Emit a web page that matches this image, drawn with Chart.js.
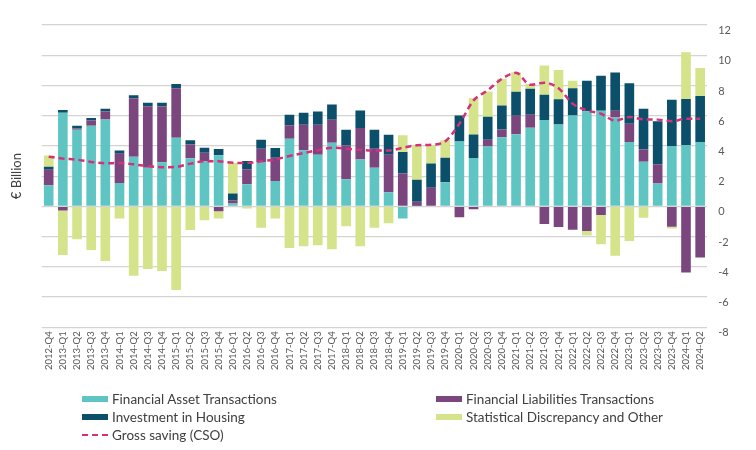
<!DOCTYPE html>
<html>
<head>
<meta charset="utf-8">
<script src="https://cdn.jsdelivr.net/npm/chart.js@4/dist/chart.umd.min.js"></script>
<style>
  html, body { margin: 0; padding: 0; background: #ffffff; }
  #wrap { position: relative; width: 756px; height: 450px; }
  #legend { position: absolute; left: 0; top: 0; width: 756px; height: 450px; pointer-events: none;
            font-family: Lato, "Open Sans", sans-serif; font-size: 13.5px; color: #404040; }
  .item { position: absolute; height: 18px; line-height: 18px; white-space: nowrap; }
  .sw { position: absolute; top: 6px; width: 26px; height: 6px; }
  .txt { position: absolute; left: 30px; top: 0; }
</style>
</head>
<body>
<div id="wrap">
  <canvas id="c" width="756" height="450"></canvas>
  <div id="legend"></div>
</div>
<script>
const categories = [
  "2012-Q4",
  "2013-Q1","2013-Q2","2013-Q3","2013-Q4",
  "2014-Q1","2014-Q2","2014-Q3","2014-Q4",
  "2015-Q1","2015-Q2","2015-Q3","2015-Q4",
  "2016-Q1","2016-Q2","2016-Q3","2016-Q4",
  "2017-Q1","2017-Q2","2017-Q3","2017-Q4",
  "2018-Q1","2018-Q2","2018-Q3","2018-Q4",
  "2019-Q1","2019-Q2","2019-Q3","2019-Q4",
  "2020-Q1","2020-Q2","2020-Q3","2020-Q4",
  "2021-Q1","2021-Q2","2021-Q3","2021-Q4",
  "2022-Q1","2022-Q2","2022-Q3","2022-Q4",
  "2023-Q1","2023-Q2","2023-Q3","2023-Q4",
  "2024-Q1","2024-Q2"
];

const financialAssets = [
  1.40,
  6.19, 5.07, 5.34, 5.75,
  1.55, 3.28, 2.56, 2.92,
  4.54, 3.18, 2.98, 3.38,
  0.19, 1.46, 2.94, 1.68,
  4.48, 3.71, 3.42, 4.21,
  1.79, 3.11, 2.56, 0.93,
  -0.80, 0.02, 0.05, 1.60,
  4.30, 3.20, 3.97, 4.57,
  4.77, 5.21, 5.71, 5.41,
  6.02, 6.29, 6.33, 5.88,
  4.26, 2.95, 1.52, 4.00,
  4.04, 4.26
];

const financialLiabilities = [
  1.03,
  -0.27, 0.09, 0.35, 0.53,
  1.94, 3.88, 4.07, 3.69,
  3.28, 0.92, 0.57, -0.32,
  0.22, 0.99, 0.88, 1.54,
  0.88, 1.69, 1.98, 1.52,
  2.23, 2.07, 1.26, 2.49,
  2.17, 0.28, 1.19, 0.00,
  -0.72, -0.19, 0.44, 0.51,
  1.23, 0.86, -1.16, -1.36,
  -1.54, -1.63, -0.57, 0.44,
  1.21, 0.81, 1.27, -1.34,
  -4.37, -3.38
];

const investmentHousing = [
  0.20,
  0.18, 0.18, 0.15, 0.18,
  0.20, 0.20, 0.22, 0.24,
  0.27, 0.27, 0.33, 0.42,
  0.44, 0.56, 0.59, 0.64,
  0.70, 0.79, 0.88, 1.01,
  1.05, 1.17, 1.25, 1.32,
  1.43, 1.47, 1.59, 1.62,
  1.72, 1.56, 1.52, 1.60,
  1.58, 1.71, 1.67, 1.67,
  1.80, 2.02, 2.31, 2.53,
  2.68, 2.70, 2.84, 3.05,
  3.06, 3.04
];

const statisticalOther = [
  0.73,
  -2.95, -2.17, -2.89, -3.62,
  -0.80, -4.59, -4.15, -4.28,
  -5.53, -1.57, -0.91, -0.48,
  2.04, -0.14, -1.42, -0.80,
  -2.76, -2.63, -2.57, -2.83,
  -1.31, -2.63, -1.42, -1.11,
  1.10, 2.27, 1.21, 1.15,
  0.04, 2.40, 1.67, 1.76,
  1.30, 0.33, 1.94, 1.95,
  0.49, -0.30, -1.94, -3.27,
  -2.29, -0.75, 0.00, -0.13,
  3.10, 1.86
];

const grossSaving = [
  3.29,
  3.16, 3.09, 2.94, 2.85,
  2.87, 2.78, 2.67, 2.59,
  2.61, 2.83, 2.98, 2.98,
  2.89, 2.87, 2.98, 3.11,
  3.33, 3.53, 3.71, 3.88,
  3.82, 3.73, 3.69, 3.69,
  3.88, 4.04, 4.08, 4.30,
  5.47, 7.01, 7.68, 8.44,
  8.84, 8.04, 8.18, 7.82,
  6.79, 6.35, 6.13, 5.67,
  5.91, 5.76, 5.74, 5.63,
  5.80, 5.80
];

const yTicks = [-8, -6, -4, -2, 0, 2, 4, 6, 8, 10, 12];

const COLORS = {
  fa: "#5fc5c2",
  fl: "#7b467e",
  ih: "#0b4f6b",
  so: "#d5e38a",
  gs: "#d6307a"
};

const barCommon = { type: "bar", stack: "bars", yAxisID: "y", order: 1, borderWidth: 0,
                    barPercentage: 0.68, categoryPercentage: 1.0 };

const datasets = [
  Object.assign({}, barCommon, { label: "Financial Asset Transactions", data: financialAssets, backgroundColor: COLORS.fa }),
  Object.assign({}, barCommon, { label: "Financial Liabilities Transactions", data: financialLiabilities, backgroundColor: COLORS.fl }),
  Object.assign({}, barCommon, { label: "Investment in Housing", data: investmentHousing, backgroundColor: COLORS.ih }),
  Object.assign({}, barCommon, { label: "Statistical Discrepancy and Other", data: statisticalOther, backgroundColor: COLORS.so }),
  { type: "line", label: "Gross saving (CSO)", data: grossSaving, stack: "line", yAxisID: "y", order: 0,
    borderColor: COLORS.gs, borderWidth: 2.5, borderDash: [6, 4], pointRadius: 0, pointHoverRadius: 0,
    fill: false, tension: 0.4, cubicInterpolationMode: "monotone" }
];

Chart.defaults.font.family = "Lato, 'Open Sans', sans-serif";
Chart.defaults.color = "#595959";

new Chart(document.getElementById("c"), {
  data: { labels: categories, datasets: datasets },
  options: {
    responsive: false,
    animation: false,
    devicePixelRatio: 1,
    layout: { padding: { top: 25, right: 14, bottom: 76, left: 9 } },
    plugins: { legend: { display: false }, tooltip: { enabled: false } },
    scales: {
      x: {
        stacked: true,
        grid: { display: false, drawTicks: false },
        border: { display: false },
        ticks: { autoSkip: false, minRotation: 90, maxRotation: 90, padding: 4,
                 font: { size: 9.5 }, color: "#595959" }
      },
      y: {
        position: "right",
        stacked: true,
        min: -8, max: 12,
        afterBuildTicks: (axis) => { axis.ticks = yTicks.map(v => ({ value: v })); },
        grid: { color: "#d4d4d4", lineWidth: 1.3, drawTicks: false },
        border: { display: false },
        ticks: { padding: 11, font: { size: 11 }, color: "#595959", align: "start" }
      },
      yL: {
        position: "left",
        min: -8, max: 12,
        grid: { display: false, drawTicks: false },
        border: { display: false },
        ticks: { display: false },
        title: { display: true, text: "€ Billion", font: { size: 13 }, color: "#404040",
                 padding: { top: 0, bottom: 17 } }
      }
    }
  }
});

// HTML legend built from the datasets, two columns
const legend = document.getElementById("legend");
const colX = [82, 436];
const rowY = [390, 408, 426];
datasets.forEach((ds, i) => {
  const item = document.createElement("div");
  item.className = "item";
  item.style.left = colX[i % 2] + "px";
  item.style.top = rowY[Math.floor(i / 2)] + "px";
  const sw = document.createElement("div");
  sw.className = "sw";
  if (ds.type === "line") {
    sw.style.top = "8px";
    sw.style.height = "0px";
    sw.style.borderTop = "2.5px dashed " + ds.borderColor;
  } else {
    sw.style.background = ds.backgroundColor;
  }
  const t = document.createElement("span");
  t.className = "txt";
  t.textContent = ds.label;
  item.appendChild(sw);
  item.appendChild(t);
  legend.appendChild(item);
});
</script>
</body>
</html>
